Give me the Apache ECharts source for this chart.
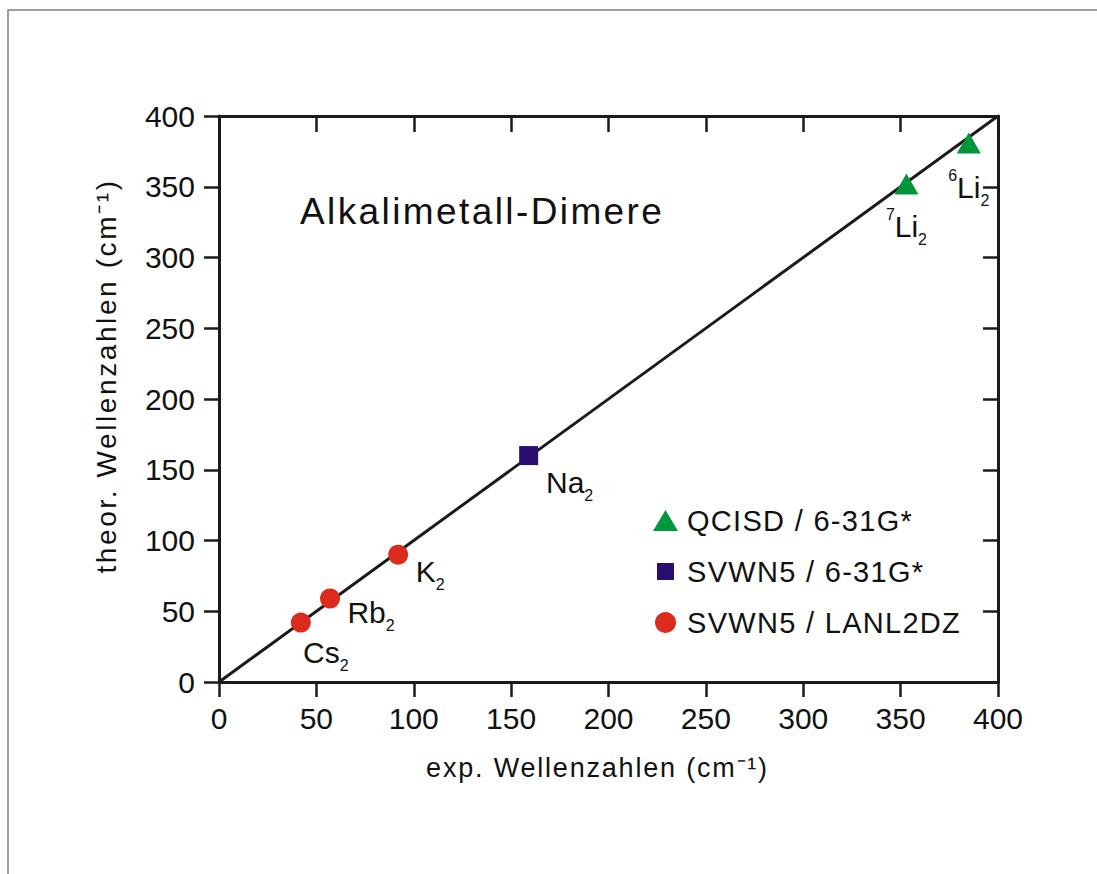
<!DOCTYPE html>
<html><head><meta charset="utf-8">
<script src="https://cdn.jsdelivr.net/npm/echarts@6/dist/echarts.min.js"></script>
<style>
html,body{margin:0;padding:0;background:#fff;}
#chart{width:1097px;height:874px;}
#chart text[style*="37px"]{letter-spacing:2.4px;}
#chart text[style*="29px"]{letter-spacing:1.3px;}
#chart text[style*="27px"]{letter-spacing:1.8px;}
#chart text[style*="28px"]{letter-spacing:2.6px;}
</style></head><body><div id="chart"></div>
<script>
// ---- data ----
const axisMin = 0, axisMax = 400, tickStep = 50;
const chartTitle = 'Alkalimetall-Dimere';
const xName = 'exp. Wellenzahlen (cm\u207B\u00B9)';
const yName = 'theor. Wellenzahlen (cm\u207B\u00B9)';
const legendNames = ['QCISD / 6-31G*', 'SVWN5 / 6-31G*', 'SVWN5 / LANL2DZ'];

const qcisdX = [353, 385];
const qcisdY = [352, 381];
const qcisdLabels = ['{sup|7}{m|Li}{sub|2}', '{sup|6}{m|Li}{sub|2}'];

const svwnGX = [159];
const svwnGY = [160];
const svwnGLabels = ['{m|Na}{sub|2}'];

const lanlX = [92, 57, 42];
const lanlY = [90, 59, 42];
const lanlLabels = ['{m|K}{sub|2}', '{m|Rb}{sub|2}', '{m|Cs}{sub|2}'];

const diagX = [0, 400];
const diagY = [0, 400];

// ---- layout / style ----
const FF = "'Liberation Sans', Arial, Helvetica, sans-serif";
const INK = '#111111';
const AX = '#1c1a1a';
const qcisdOff = [[0, 43], [0, 45]];
const svwnGOff = [[41, 27]];
const lanlOff = [[32, 17], [41, 14], [25, 30]];

const rich = {
  m: {fontSize: 30, lineHeight: 41, fontFamily: FF, color: INK},
  sub: {fontSize: 16, lineHeight: 16, fontFamily: FF, color: INK, verticalAlign: 'bottom'},
  sup: {fontSize: 16, lineHeight: 16, fontFamily: FF, color: INK, verticalAlign: 'top'}
};

function items(xs, ys, labels, offs) {
  return xs.map((x, i) => ({
    value: [x, ys[i]],
    label: {formatter: labels[i], offset: offs[i]}
  }));
}

const chart = echarts.init(document.getElementById('chart'), null, {renderer: 'svg'});

function axisCommon(extra) {
  return Object.assign({
    type: 'value', min: axisMin, max: axisMax, interval: tickStep,
    axisLine: {show: true, onZero: false, lineStyle: {color: AX, width: 3}},
    splitLine: {show: false}
  }, extra);
}

const labelBase = {show: true, position: 'inside', color: INK, opacity: 1, textBorderWidth: 0, rich: rich};

chart.setOption({
  animation: false,
  backgroundColor: '#ffffff',
  title: {
    text: chartTitle, left: 300, top: 193, padding: 0,
    textStyle: {fontSize: 37, fontWeight: 'normal', color: INK, fontFamily: FF}
  },
  grid: {left: 219, right: 99, top: 116, bottom: 192, containLabel: false, outerBoundsMode: 'none'},
  graphic: [{
    type: 'rect', silent: true, z: -10,
    shape: {x: 8, y: 10, width: 2000, height: 2000},
    style: {fill: 'none', stroke: '#808080', lineWidth: 1.5}
  }],
  legend: {
    orient: 'vertical', left: 653, top: 506, padding: 0,
    itemWidth: 25, itemHeight: 21, itemGap: 22, selectedMode: false,
    textStyle: {fontSize: 29, color: INK, fontFamily: FF, padding: [0, 0, 0, 4]},
    data: [
      {name: legendNames[0], icon: 'triangle'},
      {name: legendNames[1], icon: 'path://M0,0H10V10H0Z', itemStyle: {borderColor: '#ffffff', borderWidth: 4}},
      {name: legendNames[2], icon: 'circle'}
    ]
  },
  xAxis: [
    axisCommon({
      position: 'bottom',
      axisTick: {show: true, inside: false, length: 15, lineStyle: {color: AX, width: 2.5}},
      axisLabel: {margin: 21, fontSize: 30, color: INK, fontFamily: FF},
      name: xName, nameLocation: 'middle', nameGap: 72,
      nameTextStyle: {fontSize: 27, color: INK, fontFamily: FF, padding: [0, 22, 0, 0]}
    }),
    axisCommon({
      position: 'top',
      axisTick: {show: true, inside: true, length: 16, lineStyle: {color: AX, width: 2.5}},
      axisLabel: {show: false}
    })
  ],
  yAxis: [
    axisCommon({
      position: 'left',
      axisTick: {show: true, inside: false, length: 15, lineStyle: {color: AX, width: 2.5}},
      axisLabel: {margin: 24, fontSize: 30, color: INK, fontFamily: FF},
      name: yName, nameLocation: 'middle', nameGap: 99,
      nameTextStyle: {fontSize: 28, color: INK, fontFamily: FF, padding: [0, 0, 0, 46]}
    }),
    axisCommon({
      position: 'right',
      axisTick: {show: true, inside: true, length: 15, lineStyle: {color: AX, width: 2.5}},
      axisLabel: {show: false}
    })
  ],
  series: [
    {
      type: 'line', silent: true, z: 1,
      data: diagX.map((x, i) => [x, diagY[i]]),
      symbol: 'none', showSymbol: false,
      lineStyle: {color: '#1a1a1a', width: 3}
    },
    {
      type: 'scatter', name: legendNames[0], z: 3,
      symbol: 'triangle', symbolSize: [24, 21],
      itemStyle: {color: '#00963C', opacity: 1},
      label: labelBase,
      data: items(qcisdX, qcisdY, qcisdLabels, qcisdOff)
    },
    {
      type: 'scatter', name: legendNames[1], z: 3,
      symbol: 'rect', symbolSize: 19,
      itemStyle: {color: '#2A0D6E', opacity: 1},
      label: labelBase,
      data: items(svwnGX, svwnGY, svwnGLabels, svwnGOff)
    },
    {
      type: 'scatter', name: legendNames[2], z: 3,
      symbol: 'circle', symbolSize: 20,
      itemStyle: {color: '#DC2A1C', opacity: 1},
      label: labelBase,
      data: items(lanlX, lanlY, lanlLabels, lanlOff)
    }
  ]
});
</script></body></html>
